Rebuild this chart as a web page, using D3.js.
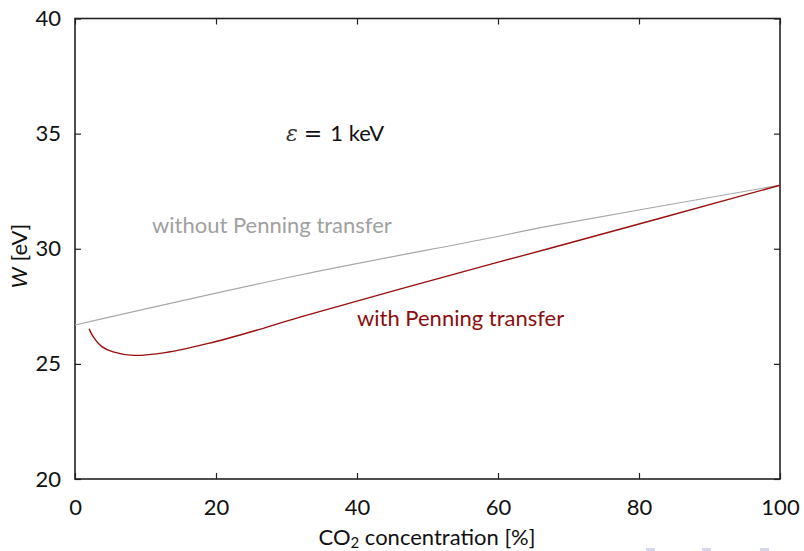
<!DOCTYPE html>
<html>
<head>
<meta charset="utf-8">
<script src="https://cdn.jsdelivr.net/npm/d3@7"></script>
<style>
  html, body { margin: 0; padding: 0; background: #fff; }
  svg { display: block; font-family: Lato, "Open Sans", sans-serif; }
</style>
</head>
<body>
<svg id="chart" width="804" height="551"></svg>
<script>
// CO2 concentration [%] and mean energy per ion pair W [eV]
const concWithout = [0, 31.9, 57.4, 67.4, 100];
const wWithout    = [26.69, 28.86, 30.38, 30.99, 32.76];

const concWith = [2.0, 2.6, 3.8, 5.4, 8.3, 12.8, 18.9, 25.5, 31.9, 60.3, 67.4, 100];
const wWith    = [26.52, 26.17, 25.75, 25.52, 25.37, 25.49, 25.89, 26.44, 27.03, 29.44, 30.02, 32.76];

const xTicks = [0, 20, 40, 60, 80, 100];
const yTicks = [20, 25, 30, 35, 40];

const margin = { left: 75, right: 24, top: 18.5, bottom: 72 };
const W = 804, H = 551;
const svg = d3.select("#chart");

const x = d3.scaleLinear().domain([0, 100]).range([margin.left, W - margin.right]);
const y = d3.scaleLinear().domain([20, 40]).range([H - margin.bottom, margin.top]);

const axisColor = "#222";
const tickLen = 6;
const fontSize = 22;

// inward ticks on all four sides
const axes = [
  { g: d3.axisBottom(x), t: `translate(0,${y(20)})`, labels: true },
  { g: d3.axisTop(x), t: `translate(0,${y(40)})`, labels: false },
  { g: d3.axisLeft(y), t: `translate(${x(0)},0)`, labels: true },
  { g: d3.axisRight(y), t: `translate(${x(100)},0)`, labels: false }
];
axes.forEach((a, i) => {
  const horiz = i < 2;
  a.g.tickValues(horiz ? xTicks : yTicks)
     .tickSizeInner(-tickLen).tickSizeOuter(0)
     .tickPadding(i === 0 ? 20 : 14)
     .tickFormat(a.labels ? d3.format("d") : () => "");
  const g = svg.append("g").attr("transform", a.t).call(a.g);
  g.select(".domain").remove();
  g.selectAll(".tick line").attr("stroke", axisColor).attr("stroke-width", 1.2);
  g.selectAll(".tick text").attr("font-size", fontSize).attr("fill", "#111")
   .attr("font-family", "Lato, sans-serif");
});

// frame
svg.append("rect")
  .attr("x", x(0)).attr("y", y(40))
  .attr("width", x(100) - x(0)).attr("height", y(20) - y(40))
  .attr("fill", "none").attr("stroke", axisColor).attr("stroke-width", 1.6);

const line = d3.line().curve(d3.curveCatmullRom.alpha(0.5));

svg.append("path")
  .attr("d", line(concWithout.map((c, i) => [x(c), y(wWithout[i])])))
  .attr("fill", "none").attr("stroke", "#a6a6a6").attr("stroke-width", 1.2);

svg.append("path")
  .attr("d", line(concWith.map((c, i) => [x(c), y(wWith[i])])))
  .attr("fill", "none").attr("stroke", "#990f0f").attr("stroke-width", 1.4);

// annotations
const eps = svg.append("text").attr("x", 286).attr("y", 141).attr("font-size", fontSize).attr("fill", "#111");
eps.append("tspan").attr("font-family", "'DejaVu Serif', serif").attr("font-style", "italic").attr("fill", "#333").text("ε");
eps.append("tspan").attr("font-family", "'DejaVu Sans', sans-serif").attr("dx", 6).text("=");
eps.append("tspan").attr("dx", 8).text("1 keV");

svg.append("text").attr("x", 152).attr("y", 233).attr("font-size", fontSize)
  .attr("fill", "#a0a0a0").text("without Penning transfer");

svg.append("text").attr("x", 357).attr("y", 326).attr("font-size", fontSize)
  .attr("fill", "#8b0e0e").text("with Penning transfer");

// axis titles
const xt = svg.append("text").attr("x", 427).attr("y", 545).attr("text-anchor", "middle")
  .attr("font-size", fontSize).attr("fill", "#111");
xt.append("tspan").text("CO");
xt.append("tspan").attr("font-size", 15).attr("dy", 3).text("2");
xt.append("tspan").attr("dy", -3).text(" concentration [%]");

const yt = svg.append("text").attr("transform", "translate(27,256) rotate(-90)")
  .attr("text-anchor", "middle").attr("font-size", fontSize).attr("fill", "#111");
yt.append("tspan").attr("font-style", "italic").text("W");
yt.append("tspan").text(" [eV]");

// navigation marks at the page foot
[646, 702, 760].forEach(px => {
  svg.append("rect").attr("x", px).attr("y", 548).attr("width", 9).attr("height", 3)
    .attr("fill", "#d6d6f0");
});
</script>
</body>
</html>
